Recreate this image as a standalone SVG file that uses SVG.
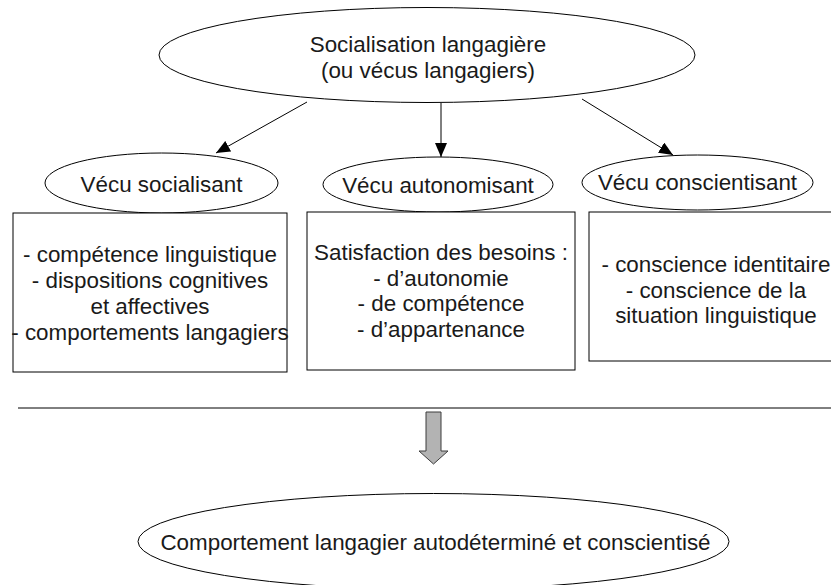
<svg xmlns="http://www.w3.org/2000/svg" width="831" height="585" viewBox="0 0 831 585">
<style>
.shape{fill:#ffffff;stroke:#000000;stroke-width:1}
.t{font-family:"Liberation Sans",Arial,sans-serif;font-size:22.4px;fill:#1a1a1a;text-anchor:middle}
.conn{stroke:#000000;stroke-width:1;fill:none}
</style>
<defs>
<marker id="ah" markerUnits="userSpaceOnUse" markerWidth="14" markerHeight="12" viewBox="0 0 14 12" refX="14" refY="6" orient="auto">
<path d="M0,0 L14,6 L0,12 Z" fill="#000000"/>
</marker>
</defs>
<rect width="831" height="585" fill="#ffffff"/>
<g id="top">
<ellipse class="shape" cx="427" cy="55" rx="268" ry="47.5"/>
<text class="t" x="428" y="52">Socialisation langagière</text>
<text class="t" x="428" y="78">(ou vécus langagiers)</text>
</g>
<g id="connectors">
<line class="conn" x1="307" y1="102" x2="216" y2="153" marker-end="url(#ah)"/>
<line class="conn" x1="441" y1="103" x2="441" y2="157" stroke="#333333" marker-end="url(#ah)"/>
<line class="conn" x1="582" y1="99" x2="673" y2="155" marker-end="url(#ah)"/>
<line class="conn" x1="18" y1="408" x2="831" y2="408"/>
<polygon points="426,412 441,412 441,451 448,451 433.5,464 419,451 426,451" fill="#b3b3b3" stroke="#3c3c3c" stroke-width="1"/>
</g>
<g id="vecu-socialisant">
<ellipse class="shape" cx="161.5" cy="183" rx="116.5" ry="30"/>
<text class="t" x="161.5" y="192">Vécu socialisant</text>
</g>
<g id="vecu-autonomisant">
<ellipse class="shape" cx="438" cy="184.5" rx="115" ry="27.5"/>
<text class="t" x="438" y="193">Vécu autonomisant</text>
</g>
<g id="vecu-conscientisant">
<ellipse class="shape" cx="697.5" cy="182.5" rx="115.5" ry="27.5"/>
<text class="t" x="697.5" y="190">Vécu conscientisant</text>
</g>
<g id="box-socialisant">
<rect class="shape" x="13" y="213" width="274" height="159"/>
<text class="t" x="150" y="262">- compétence linguistique</text>
<text class="t" x="150" y="288">- dispositions cognitives</text>
<text class="t" x="150" y="314">et affectives</text>
<text class="t" x="150" y="340">- comportements langagiers</text>
</g>
<g id="box-autonomisant">
<rect class="shape" x="307" y="212" width="268" height="158"/>
<text class="t" x="441" y="260">Satisfaction des besoins :</text>
<text class="t" x="441" y="285.7">- d&#8217;autonomie</text>
<text class="t" x="441" y="311.4">- de compétence</text>
<text class="t" x="441" y="337">- d&#8217;appartenance</text>
</g>
<g id="box-conscientisant">
<rect class="shape" x="589" y="212" width="260" height="149"/>
<text class="t" x="716" y="272">- conscience identitaire</text>
<text class="t" x="716" y="297.7">- conscience de la</text>
<text class="t" x="716" y="323.4">situation linguistique</text>
</g>
<g id="result">
<ellipse class="shape" cx="433.5" cy="541.5" rx="295.5" ry="48"/>
<text class="t" x="435.5" y="550">Comportement langagier autodéterminé et conscientisé</text>
</g>
</svg>
